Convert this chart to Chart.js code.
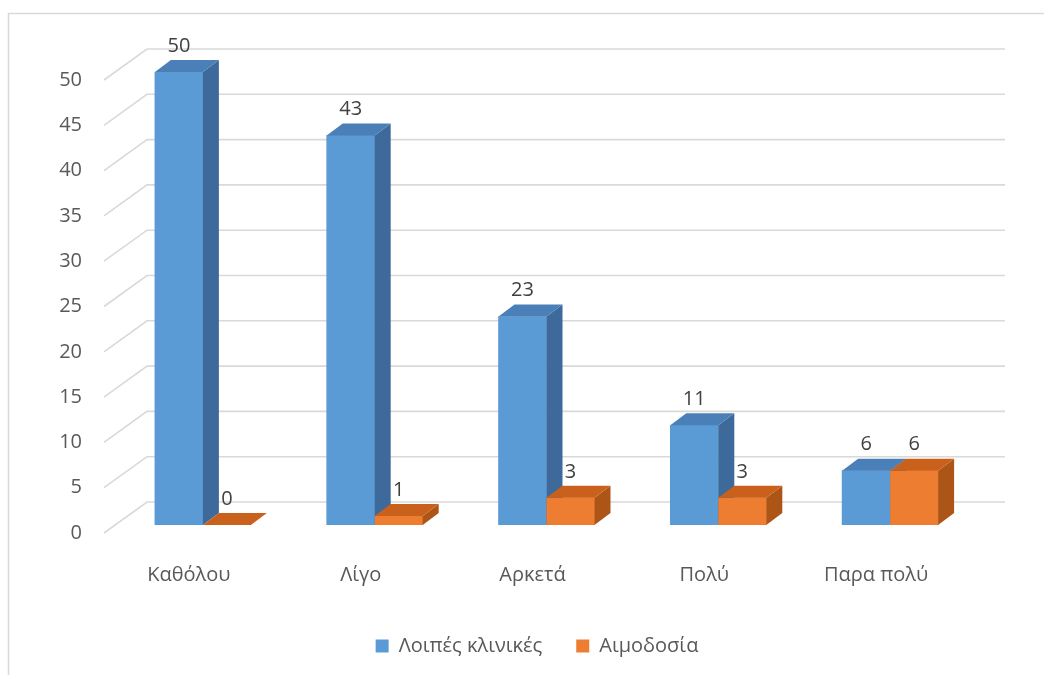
<!DOCTYPE html>
<html>
<head>
<meta charset="utf-8">
<script src="https://cdn.jsdelivr.net/npm/chart.js@4.4.1/dist/chart.umd.min.js"></script>
<style>
    body { margin: 0; background: #fff; }
    #js--chart { display: block; }
</style>
</head>
<body>
<canvas id="js--chart" width="1044" height="675"></canvas>
<script>
const labels = ["Καθόλου", "Λίγο", "Αρκετά", "Πολύ", "Παρα πολύ"];
const loipes = [50, 43, 23, 11, 6];
const aimodosia = [0, 1, 3, 3, 6];
const yTicks = [0, 5, 10, 15, 20, 25, 30, 35, 40, 45, 50];

const FONT = "'Open Sans', sans-serif";
// depth of one bar, and offsets of the back wall / floor front edge from the bar plane
const BAR_DX = 16, BAR_DY = -12;
const WALL_DX = 32, WALL_DY = -23;
const FLOOR_DX = -11, FLOOR_DY = 8;

const faces = [
    { front: '#5b9bd5', top: '#4a7fb8', side: '#3d6a9a' },
    { front: '#ed7d31', top: '#c9611c', side: '#ad5517' }
];

function poly(ctx, pts, color) {
    ctx.beginPath();
    ctx.moveTo(pts[0][0], pts[0][1]);
    for (let i = 1; i < pts.length; i++) ctx.lineTo(pts[i][0], pts[i][1]);
    ctx.closePath();
    ctx.fillStyle = color;
    ctx.fill();
}

// frame + back wall grid + the slanted lines on the side wall
const wallPlugin = {
    id: 'wall',
    beforeDatasetsDraw(chart) {
        const ctx = chart.ctx;
        const y = chart.scales.y;
        const area = chart.chartArea;
        ctx.save();
        ctx.strokeStyle = '#d9d9d9';
        ctx.lineWidth = 1.5;
        ctx.beginPath();
        ctx.moveTo(8.5, 675);
        ctx.lineTo(8.5, 13.5);
        ctx.lineTo(1044, 13.5);
        ctx.stroke();

        ctx.lineWidth = 1.6;
        yTicks.forEach(function (v) {
            const py = y.getPixelForValue(v);
            ctx.beginPath();
            ctx.moveTo(area.left + FLOOR_DX - 2, py + FLOOR_DY);
            ctx.lineTo(area.left + WALL_DX - 2, py + WALL_DY);
            ctx.lineTo(area.right + WALL_DX - 3, py + WALL_DY);
            ctx.stroke();
        });
        ctx.restore();
    }
};

// side and top faces of every bar, plus its value on top.
// blue goes first so the orange front face can cover the blue side face
const boxPlugin = {
    id: 'box',
    afterDatasetsDraw(chart) {
        const ctx = chart.ctx;
        ctx.save();
        chart.data.datasets.forEach(function (ds, d) {
            const col = faces[d];
            chart.getDatasetMeta(d).data.forEach(function (bar, i) {
                const l = bar.x - bar.width / 2;
                const r = bar.x + bar.width / 2;
                const t = bar.y;
                const b = bar.base;
                if (d > 0) poly(ctx, [[l, t], [r, t], [r, b], [l, b]], col.front);
                poly(ctx, [[r, t], [r + BAR_DX, t + BAR_DY], [r + BAR_DX, b + BAR_DY], [r, b]], col.side);
                poly(ctx, [[l, t], [l + BAR_DX, t + BAR_DY], [r + BAR_DX, t + BAR_DY], [r, t]], col.top);
            });
        });
        ctx.fillStyle = '#404040';
        ctx.font = '20px ' + FONT;
        ctx.textAlign = 'center';
        ctx.textBaseline = 'middle';
        chart.data.datasets.forEach(function (ds, d) {
            chart.getDatasetMeta(d).data.forEach(function (bar, i) {
                ctx.fillText(ds.data[i], bar.x, bar.y + BAR_DY - 14);
            });
        });
        ctx.restore();
    }
};

const data = {
    labels: labels,
    datasets: [
        {
            label: "Λοιπές κλινικές",
            data: loipes,
            backgroundColor: faces[0].front
        },
        {
            label: "Αιμοδοσία",
            data: aimodosia,
            backgroundColor: faces[1].front
        }
    ]
};

const config = {
    type: 'bar',
    data: data,
    options: {
        responsive: false,
        animation: false,
        devicePixelRatio: 1,
        barThickness: 48,
        layout: { padding: { top: 72, right: 0, left: 30, bottom: 9 } },
        scales: {
            x: {
                grid: { display: false, drawTicks: false },
                border: { display: false },
                ticks: {
                    color: '#595959',
                    font: { family: FONT, size: 20 },
                    padding: 38,
                    labelOffset: -14
                },
                afterFit: function (scale) { scale.height = 77; }
            },
            y: {
                min: 0,
                max: 50,
                grid: { display: false, drawTicks: false },
                border: { display: false },
                ticks: {
                    stepSize: 5,
                    color: '#595959',
                    font: { family: FONT, size: 20 },
                    padding: 35,
                    labelOffset: 8
                },
                afterFit: function (scale) { scale.width = 87; }
            },
            // empty space on the right, keeps the plot narrower than the legend row
            yRight: {
                position: 'right',
                grid: { display: false, drawTicks: false },
                border: { display: false },
                ticks: { display: false },
                afterFit: function (scale) { scale.width = 68; }
            }
        },
        plugins: {
            tooltip: { enabled: false },
            legend: {
                position: 'bottom',
                labels: {
                    color: '#595959',
                    font: { family: FONT, size: 20 },
                    boxWidth: 13,
                    boxHeight: 13,
                    padding: 34
                }
            }
        }
    },
    plugins: [wallPlugin, boxPlugin]
};

const myChart = new Chart(document.getElementById("js--chart"), config);
</script>
</body>
</html>
